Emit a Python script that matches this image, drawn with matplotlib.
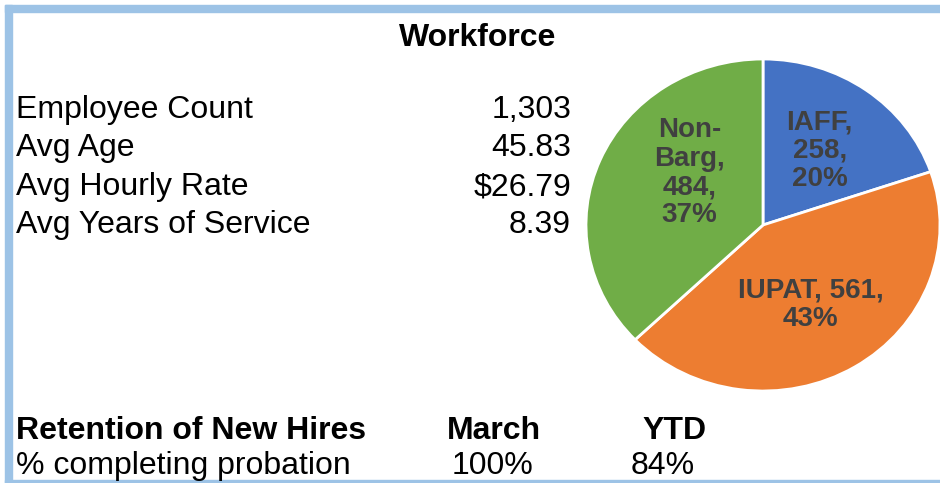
import matplotlib
matplotlib.use("Agg")
import matplotlib.pyplot as plt
from matplotlib.patches import Rectangle
import numpy as np

plt.rcParams['font.family'] = ['Liberation Sans', 'DejaVu Sans']

W, H = 940, 483

# data
stat_labels = ['Employee Count', 'Avg Age', 'Avg Hourly Rate', 'Avg Years of Service']
stat_values = ['1,303', '45.83', '$26.79', '8.39']

union_names = ['IAFF', 'IUPAT', 'Non-Barg']
union_counts = [258, 561, 484]
union_label_fmt = ['IAFF,\n{n},\n{p}%', 'IUPAT, {n},\n{p}%', 'Non-\nBarg,\n{n},\n{p}%']

retention_cols = ['March', 'YTD']
retention_vals = ['100%', '84%']

colors = ['#4472C4', '#ED7D31', '#70AD47']
border = '#9DC3E6'
label_grey = '#404040'
FS = 23


def fx(x):
    return x / W


def fy(y):
    # y measured from the top in pixels
    return 1 - y / H


fig = plt.figure(figsize=(W / 100, H / 100), dpi=100)
fig.patch.set_facecolor('white')

# light blue frame (top, left, bottom)
for x0, y0, w, h in [(5, 5, 935, 7), (5, 5, 7, 478), (5, 480, 935, 3)]:
    fig.patches.append(Rectangle((fx(x0), fy(y0 + h)), w / W, h / H,
                                 transform=fig.transFigure, color=border, zorder=0))

fig.text(fx(478), fy(46), 'Workforce', ha='center', va='baseline',
         fontsize=FS, fontweight='bold')

base = [118, 156, 195, 233]
for lab, val, yb in zip(stat_labels, stat_values, base):
    fig.text(fx(16), fy(yb), lab, ha='left', va='baseline', fontsize=FS)
    fig.text(fx(571), fy(yb), val, ha='right', va='baseline', fontsize=FS)

# retention table
fig.text(fx(16), fy(439), 'Retention of New Hires', ha='left', va='baseline',
         fontsize=FS, fontweight='bold')
fig.text(fx(16), fy(474), '% completing probation', ha='left', va='baseline',
         fontsize=FS)
for col, val, xc_head, xc_val in zip(retention_cols, retention_vals, [494, 675], [492, 663]):
    fig.text(fx(xc_head), fy(439), col, ha='center', va='baseline',
             fontsize=FS, fontweight='bold')
    fig.text(fx(xc_val), fy(474), val, ha='center', va='baseline', fontsize=FS)

# pie
cx, cy, rx, ry = 763, 225, 177, 166
ax = fig.add_axes([fx(cx - rx), fy(cy + ry), 2 * rx / W, 2 * ry / H])
wedges, _ = ax.pie(union_counts, colors=colors, startangle=90, counterclock=False,
                   radius=1, wedgeprops=dict(edgecolor='white', linewidth=2))
ax.set_aspect('auto')
ax.set_xlim(-1, 1)
ax.set_ylim(-1, 1)
ax.axis('off')
for w in wedges:
    w.set_clip_on(False)

total = sum(union_counts)
label_place = [(0.55, 0), (0.55, -2), (0.52, -14)]
for w, n, fmt, (r, shift) in zip(wedges, union_counts, union_label_fmt, label_place):
    mid = np.deg2rad((w.theta1 + w.theta2) / 2 + shift)
    pct = round(100 * n / total)
    ax.text(r * np.cos(mid), r * np.sin(mid), fmt.format(n=n, p=pct),
            ha='center', va='center', fontsize=20, fontweight='bold',
            color=label_grey, linespacing=1.12)

fig.savefig('out.png', dpi=100, facecolor='white')
